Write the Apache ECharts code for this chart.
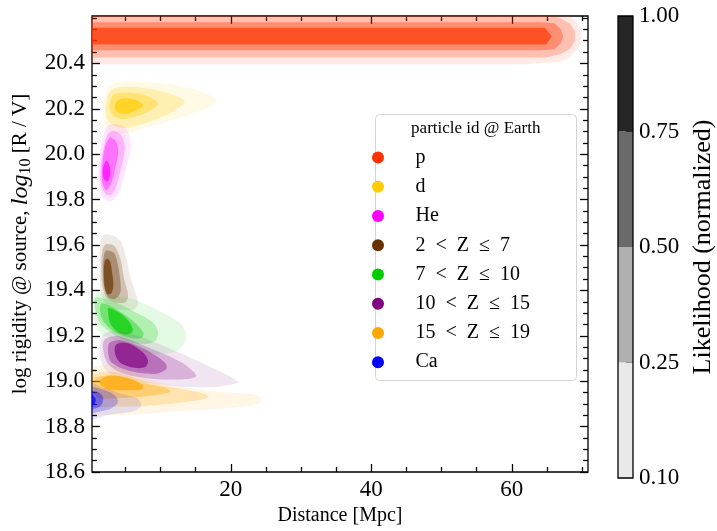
<!DOCTYPE html>
<html><head><meta charset="utf-8">
<script src="https://cdn.jsdelivr.net/npm/echarts@6/dist/echarts.min.js"></script>
<style>html,body{margin:0;padding:0;background:#fff}#c{width:717px;height:531px}</style>
</head><body><div id="c"></div>
<script>
// ---------- data ----------
const species = ['p', 'd', 'He',
  '2\u2002<\u2002Z\u2002\u2264\u20027',
  '7\u2002<\u2002Z\u2002\u2264\u200210',
  '10\u2002<\u2002Z\u2002\u2264\u200215',
  '15\u2002<\u2002Z\u2002\u2264\u200219',
  'Ca'];
const speciesColors = ['#ff3300', '#ffcc00', '#ff00ff', '#663300', '#00cc00', '#800080', '#ffa500', '#0000ff'];
const contourLevels = [0.10, 0.25, 0.50, 0.75, 1.00];
const levelAlpha = [0.10, 0.30, 0.55, 0.85];
const colorbarColors = ['#e9e9e9', '#b0b0b0', '#6a6a6a', '#262626'];

const xMajor = [20, 40, 60];
const xMinor = [5, 10, 15, 25, 30, 35, 45, 50, 55, 65, 70];
const yMajor = [18.6, 18.8, 19.0, 19.2, 19.4, 19.6, 19.8, 20.0, 20.2, 20.4];
const yMinor = [18.65, 18.7, 18.75, 18.85, 18.9, 18.95, 19.05, 19.1, 19.15, 19.25, 19.3, 19.35,
  19.45, 19.5, 19.55, 19.65, 19.7, 19.75, 19.85, 19.9, 19.95, 20.05, 20.1, 20.15, 20.25, 20.3, 20.35,
  20.45, 20.5, 20.55, 20.6];

// contour outlines [distance, log rigidity], level 0.10 / 0.25 / 0.50 / 0.75
const pL1 = [[-1,20.396],[62,20.396],[66.9,20.407],[68.3,20.43],[69.4,20.465],[69.9,20.51],[69.9,20.53],[69.4,20.575],[68.3,20.61],[66.9,20.633],[62,20.644],[-1,20.644]];
const pL2 = [[-1,20.426],[64.7,20.426],[66.9,20.44],[68.3,20.465],[69.0,20.5],[69.0,20.54],[68.3,20.575],[66.9,20.6],[64.7,20.614],[-1,20.614]];
const pL3 = [[-1,20.458],[64,20.458],[66.1,20.463],[67.0,20.49],[67.3,20.52],[67.0,20.55],[66.1,20.577],[64,20.582],[-1,20.582]];
const pL4 = [[-1,20.483],[64.9,20.483],[65.7,20.52],[64.7,20.557],[-1,20.557]];

const dL1 = [[1.82,20.191],[2.53,20.293],[4.43,20.319],[9.18,20.315],[13.92,20.293],[16.77,20.264],[17.95,20.235],[16.3,20.199],[12.97,20.163],[8.23,20.119],[4.91,20.09],[3.0,20.097],[2.06,20.133]];
const dL2 = [[2.15,20.206],[2.78,20.278],[4.43,20.296],[8.23,20.29],[11.55,20.264],[13.45,20.232],[11.55,20.184],[8.23,20.141],[4.91,20.116],[3.0,20.133],[2.29,20.163]];
const dL3 = [[2.78,20.213],[3.25,20.261],[4.91,20.271],[7.76,20.261],[9.65,20.223],[7.76,20.18],[4.91,20.155],[3.25,20.17]];
const dL4 = [[3.49,20.213],[3.96,20.239],[5.38,20.247],[6.8,20.235],[7.52,20.213],[6.33,20.191],[4.91,20.177],[3.72,20.189]];

const heL1 = [[3.25,20.133],[4.91,20.119],[5.76,20.061],[5.62,20.003],[4.91,19.916],[4.2,19.837],[3.0,19.793],[1.82,19.807],[1.21,19.873],[1.25,19.974],[1.82,20.076],[2.29,20.119]];
const heL2 = [[3.25,20.102],[4.43,20.083],[4.91,20.032],[4.53,19.96],[3.96,19.887],[3.25,19.829],[2.29,19.822],[1.58,19.865],[1.49,19.945],[2.06,20.047],[2.53,20.09]];
const heL3 = [[2.78,20.073],[3.72,20.054],[3.96,20.003],[3.49,19.93],[3.0,19.873],[2.29,19.841],[1.73,19.873],[1.68,19.945],[2.06,20.025]];
const heL4 = [[2.29,19.971],[2.78,19.945],[2.86,19.909],[2.43,19.88],[1.87,19.894],[1.82,19.938]];

const bL1 = [[1.82,19.643],[3.25,19.641],[4.43,19.612],[5.14,19.539],[5.76,19.452],[6.7,19.365],[6.8,19.337],[6.09,19.315],[4.43,19.315],[2.53,19.329],[1.58,19.38],[1.35,19.481],[1.4,19.597]];
const bL2 = [[2.29,19.604],[3.49,19.594],[4.29,19.539],[4.81,19.452],[5.38,19.38],[5.0,19.348],[3.49,19.348],[2.29,19.368],[1.68,19.43],[1.58,19.525],[1.82,19.586]];
const bL3 = [[2.29,19.576],[3.39,19.565],[3.96,19.51],[4.29,19.438],[4.29,19.391],[3.58,19.363],[2.63,19.368],[1.96,19.416],[1.82,19.503],[1.96,19.554]];
const bL4 = [[2.39,19.539],[2.82,19.528],[3.1,19.481],[3.29,19.423],[3.0,19.387],[2.43,19.383],[2.06,19.416],[1.92,19.481],[2.06,19.528]];

const gL1 = [[0.83,19.39],[2.82,19.38],[5.67,19.365],[9.47,19.315],[12.78,19.257],[13.64,19.213],[13.49,19.17],[12.31,19.133],[9.94,19.119],[7.09,19.133],[3.77,19.177],[1.4,19.213],[0.54,19.286]];
const gL2 = [[0.68,19.365],[3.29,19.351],[6.62,19.3],[8.98,19.257],[9.69,19.213],[9.22,19.177],[7.56,19.163],[4.71,19.184],[2.35,19.228],[1.15,19.271]];
const gL3 = [[1.64,19.343],[3.77,19.315],[6.14,19.264],[7.56,19.213],[7.33,19.191],[5.67,19.191],[3.29,19.22],[1.86,19.264],[1.4,19.307]];
const gL4 = [[2.58,19.322],[4.24,19.3],[5.67,19.257],[6.05,19.22],[5.2,19.206],[3.77,19.22],[2.82,19.257],[2.58,19.293]];

const puL1 = [[1.82,19.206],[3.49,19.22],[6.8,19.199],[11.54,19.141],[17.72,19.054],[21.04,18.999],[20.57,18.989],[17.72,18.974],[13.92,18.974],[9.18,18.989],[4.43,19.01],[2.06,19.054],[1.35,19.126]];
const puL2 = [[2.06,19.184],[3.96,19.199],[7.76,19.155],[12.97,19.083],[15.1,19.025],[13.92,19.01],[9.18,19.01],[4.91,19.032],[2.53,19.076],[1.82,19.141]];
const puL3 = [[2.78,19.17],[4.43,19.181],[7.76,19.141],[10.6,19.083],[10.83,19.054],[9.18,19.032],[5.38,19.047],[3.0,19.083],[2.53,19.133]];
const puL4 = [[3.72,19.163],[5.38,19.167],[7.52,19.126],[8.23,19.09],[7.76,19.061],[5.85,19.061],[4.2,19.083],[3.49,19.126]];

const oL1 = [[0,19.05],[1.5,19.07],[4.0,19.065],[9.18,19.0],[16.3,18.96],[23.89,18.938],[24.41,18.916],[23.89,18.899],[18.66,18.88],[11.54,18.865],[6.8,18.854],[2.53,18.851],[0,18.86]];
const oL2 = [[0,19.02],[1.5,19.04],[3.49,19.04],[9.18,18.989],[15.35,18.952],[16.87,18.93],[15.35,18.916],[9.18,18.894],[3.49,18.887],[0,18.895]];
const oL3 = [[0.6,19.01],[3.0,19.025],[6.8,18.996],[11.07,18.967],[11.32,18.952],[9.18,18.938],[4.43,18.926],[1.0,18.93]];
const oL4 = [[1.58,19.01],[3.0,19.025],[5.85,19.01],[7.52,18.981],[7.27,18.964],[4.91,18.96],[2.53,18.964],[1.35,18.989]];

const caL1 = [[-0.5,18.996],[1.58,18.974],[4.43,18.945],[6.8,18.923],[7.23,18.89],[5.85,18.865],[2.53,18.851],[0.64,18.833],[-0.5,18.828]];
const caL2 = [[-0.5,18.974],[2.06,18.96],[3.49,18.938],[3.96,18.909],[3.0,18.88],[1.11,18.865],[-0.5,18.86]];
const caL3 = [[-0.5,18.955],[1.11,18.952],[1.82,18.93],[1.58,18.894],[0.64,18.88],[-0.5,18.875]];
const caL4 = [[-0.5,18.945],[0.4,18.938],[0.8,18.916],[0.4,18.894],[-0.5,18.89]];

const contours = [
  [pL1, pL2, pL3, pL4],
  [dL1, dL2, dL3, dL4],
  [heL1, heL2, heL3, heL4],
  [bL1, bL2, bL3, bL4],
  [gL1, gL2, gL3, gL4],
  [puL1, puL2, puL3, puL4],
  [oL1, oL2, oL3, oL4],
  [caL1, caL2, caL3, caL4]
];

// ---------- chart ----------
const F = '"Liberation Serif", "Times New Roman", serif';
const X_MIN = 0.25, X_MAX = 70.85, Y_MIN = 18.6, Y_MAX = 20.609;

// opacity of nested layers so that stacked result equals the level alpha
const layerOpacity = levelAlpha.map((a, i) => i === 0 ? a : (a - levelAlpha[i - 1]) / (1 - levelAlpha[i - 1]));

function rgba(hex, a) {
  const n = parseInt(hex.slice(1), 16);
  return 'rgba(' + (n >> 16 & 255) + ',' + (n >> 8 & 255) + ',' + (n & 255) + ',' + a.toFixed(3) + ')';
}

const tickStyle = { color: '#000', width: 1.3 };
function xAx(pos, vals, len, withLabel) {
  const o = {
    type: 'value', gridIndex: 0, position: pos, min: X_MIN, max: X_MAX,
    axisLine: { show: false }, splitLine: { show: false },
    axisTick: { show: true, inside: true, length: len, customValues: vals, lineStyle: tickStyle },
    axisLabel: withLabel ? { show: true, customValues: vals, formatter: v => String(Math.round(v)),
      fontFamily: F, fontSize: 23, color: '#000', margin: 6 } : { show: false }
  };
  if (withLabel) {
    o.name = 'Distance [Mpc]'; o.nameLocation = 'middle'; o.nameGap = 34;
    o.nameTextStyle = { fontFamily: F, fontSize: 20, color: '#000' };
  }
  return o;
}
function yAx(pos, vals, len, withLabel) {
  const o = {
    type: 'value', gridIndex: 0, position: pos, min: Y_MIN, max: Y_MAX,
    axisLine: { show: false }, splitLine: { show: false },
    axisTick: { show: true, inside: true, length: len, customValues: vals, lineStyle: tickStyle },
    axisLabel: withLabel ? { show: true, customValues: vals, formatter: v => v.toFixed(1),
      fontFamily: F, fontSize: 23, color: '#000', margin: 7 } : { show: false }
  };
  if (withLabel) {
    o.name = '{a|log rigidity @ source, }{b|log}{c|10}{a| [R / V]}';
    o.nameLocation = 'middle'; o.nameGap = 46;
    o.nameTextStyle = { fontFamily: F, color: '#000', rich: {
      a: { fontFamily: F, fontSize: 21, color: '#000' },
      b: { fontFamily: F, fontSize: 24, fontStyle: 'italic', color: '#000' },
      c: { fontFamily: F, fontSize: 16, color: '#000', padding: [10, 0, 0, 0] }
    } };
  }
  return o;
}

const series = contours.map((polys, si) => ({
  type: 'custom', name: species[si], xAxisIndex: 0, yAxisIndex: 0, clip: true, silent: true,
  itemStyle: { color: speciesColors[si] },
  data: polys.map(p => p[0]),
  renderItem: (params, api) => {
    const l = params.dataIndex;
    const pts = polys[l].map(pt => api.coord(pt));
    return { type: 'polygon', shape: { points: pts, smooth: si === 0 ? 0 : 0.3 },
      style: { fill: rgba(speciesColors[si], layerOpacity[l]) } };
  }
}));
colorbarColors.forEach(c => series.push({
  type: 'bar', xAxisIndex: 4, yAxisIndex: 4, stack: 'cb', data: [1], barWidth: '100%',
  itemStyle: { color: c }, silent: true
}));

const option = {
  animation: false,
  backgroundColor: '#fff',
  grid: [
    { left: 92, top: 16, width: 496, height: 462, show: true, borderColor: '#000', borderWidth: 1.3, backgroundColor: 'transparent' },
    { left: 618, top: 16, width: 23, height: 462, show: true, borderColor: '#000', borderWidth: 1.3, backgroundColor: 'transparent', z: 5 }
  ],
  xAxis: [
    xAx('bottom', xMajor, 8, true), xAx('bottom', xMinor, 5, false),
    xAx('top', xMajor, 8, false), xAx('top', xMinor, 5, false),
    { type: 'category', gridIndex: 1, data: ['c'], show: false }
  ],
  yAxis: [
    yAx('left', yMajor, 8, true), yAx('left', yMinor, 5, false),
    yAx('right', yMajor, 8, false), yAx('right', yMinor, 5, false),
    { type: 'value', gridIndex: 1, position: 'right', min: 0, max: 4,
      axisLine: { show: false }, splitLine: { show: false },
      axisTick: { show: true, inside: true, length: 7, customValues: [1, 2, 3], lineStyle: tickStyle },
      axisLabel: { show: true, customValues: [0, 1, 2, 3, 4], showMinLabel: true, showMaxLabel: true,
        formatter: v => contourLevels[Math.round(v)].toFixed(2), fontFamily: F, fontSize: 23, color: '#000', margin: 6 },
      name: 'Likelihood (normalized)', nameLocation: 'middle', nameGap: 57,
      nameTextStyle: { fontFamily: F, fontSize: 26, color: '#000' } }
  ],
  legend: {
    data: species.map(n => ({ name: n, icon: 'circle' })),
    orient: 'vertical', left: 372, top: 143, padding: 0,
    itemWidth: 65, itemHeight: 12, itemGap: 0, selectedMode: false, z: 10,
    textStyle: { fontFamily: F, fontSize: 20, color: '#000', lineHeight: 29.23 }
  },
  graphic: [
    { type: 'rect', z: 3, shape: { x: 375.5, y: 114.5, width: 201, height: 266, r: 4 },
      style: { fill: 'rgba(255,255,255,0.8)', stroke: '#d4d4d4', lineWidth: 1 } },
    { type: 'text', z: 11, x: 475.8, y: 129,
      style: { text: 'particle id @ Earth', fontFamily: F, fontSize: 17, fill: '#000', align: 'center', verticalAlign: 'middle' } }
  ],
  series: series
};

const chart = echarts.init(document.getElementById('c'), null, { renderer: 'canvas' });
chart.setOption(option);
</script></body></html>
